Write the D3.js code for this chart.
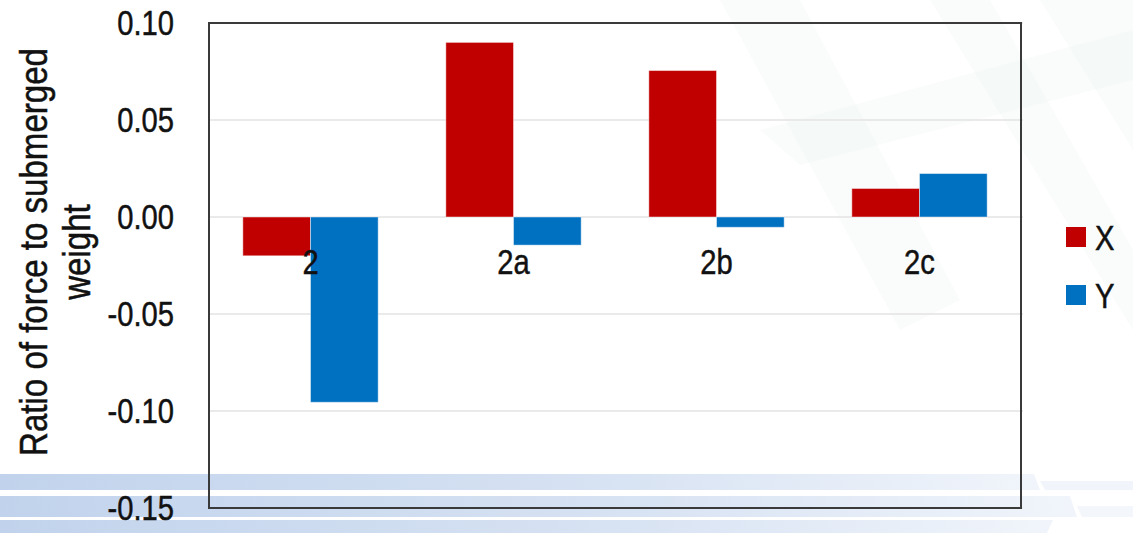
<!DOCTYPE html>
<html>
<head>
<meta charset="utf-8">
<script src="https://cdn.jsdelivr.net/npm/d3@7"></script>
<style>
	body { margin: 0; background: #fff; }
	text { font-family: 'Liberation Sans', Arial, sans-serif; fill: #111; stroke: #111; stroke-width: 0.5px; }
</style>
</head>
<body>
<script>
// data
let categories = ['2', '2a', '2b', '2c']
let seriesNames = ['X', 'Y']
let xValues = [-0.020, 0.090, 0.0755, 0.0147]
let yValues = [-0.0955, -0.0145, -0.0053, 0.0224]
let yTicks = [0.10, 0.05, 0.00, -0.05, -0.10, -0.15]
let colors = ['#C00000', '#0070C0']

let W = 1133, H = 533
let pLeft = 209, pRight = 1021, pTop = 23, pBottom = 508
let fs = 36, sq = 0.81	// font size and horizontal squeeze (narrow font look)

let svg = d3.select('body').append('svg').attr('width', W).attr('height', H)

// squeeze text horizontally, keeping its anchor point
let squeeze = function(sel) {
	sel.each(function() {
		let t = d3.select(this)
		let x = +t.attr('x') || 0
		t.attr('x', x / sq).attr('transform', `scale(${sq},1)`)
	})
}

// background decoration
let defs = svg.append('defs')
let grad = defs.append('linearGradient').attr('id', 'stripe').attr('x1', 0).attr('x2', 1)
grad.append('stop').attr('offset', 0).attr('stop-color', '#c1d3ec')
grad.append('stop').attr('offset', 0.6).attr('stop-color', '#d8e3f3')
grad.append('stop').attr('offset', 1).attr('stop-color', '#f1f5fb')

let bg = svg.append('g')
let greenShapes = [
	[[720, 0], [800, 0], [960, 300], [900, 330]],
	[[930, 0], [990, 0], [1133, 250], [1133, 330]],
	[[1040, 0], [1133, 0], [1133, 150]],
	[[760, 130], [1133, 30], [1133, 80], [800, 165]]
]
greenShapes.forEach(pts => {
	bg.append('polygon').attr('points', pts.map(p => p.join(',')).join(' '))
		.attr('fill', '#2e8b57').attr('opacity', 0.022)
})
bg.append('polygon').attr('points', '0,474 1034,474 1040,490 0,490').attr('fill', 'url(#stripe)')
bg.append('polygon').attr('points', '1040,481 1133,481 1133,490 1045,490').attr('fill', '#f1f5fb')
bg.append('polygon').attr('points', '0,496 1070,496 1077,517 0,517').attr('fill', 'url(#stripe)')
bg.append('polygon').attr('points', '1077,506 1133,506 1133,517 1082,517').attr('fill', '#f3f6fb')
bg.append('polygon').attr('points', '0,520 1053,520 1047,533 0,533').attr('fill', 'url(#stripe)')

let y = d3.scaleLinear().domain([-0.15, 0.10]).range([pBottom, pTop])
let x0 = d3.scaleBand().domain(categories).range([pLeft, pRight]).paddingInner(0).paddingOuter(0)
let x1 = d3.scaleBand().domain(seriesNames).range([0, x0.bandwidth()]).paddingOuter(0.5).paddingInner(0)

// gridlines
svg.append('g').selectAll('line').data(yTicks).join('line')
	.attr('x1', pLeft).attr('x2', pRight + 2)
	.attr('y1', d => y(d)).attr('y2', d => y(d))
	.attr('stroke', '#e3e3e3').attr('stroke-width', 1.5)

// bars
let rows = categories.map((c, i) => ({cat: c, vals: [xValues[i], yValues[i]]}))
svg.append('g').selectAll('g').data(rows).join('g')
	.attr('transform', d => `translate(${x0(d.cat)},0)`)
	.selectAll('rect').data(d => d.vals.map((v, j) => ({s: seriesNames[j], v: v, c: colors[j]}))).join('rect')
	.attr('x', d => x1(d.s))
	.attr('width', x1.bandwidth())
	.attr('y', d => y(Math.max(0, d.v)))
	.attr('height', d => Math.abs(y(d.v) - y(0)))
	.attr('fill', d => d.c)
	.attr('stroke', '#fff').attr('stroke-opacity', 0.45).attr('stroke-width', 1)

// frame
svg.append('rect').attr('x', pLeft).attr('y', pTop).attr('width', pRight - pLeft).attr('height', pBottom - pTop)
	.attr('fill', 'none').attr('stroke', '#3a3a3a').attr('stroke-width', 2)

// y axis
let fmt = d3.format('.2f')
let yAxis = d3.axisLeft(y).tickValues(yTicks).tickFormat(d => fmt(d).replace('−', '-')).tickSize(0).tickPadding(35)
let ya = svg.append('g').attr('transform', `translate(${pLeft},0)`).call(yAxis)
ya.select('.domain').remove()
ya.selectAll('text').style('font-size', fs + 'px').attr('fill', '#111').call(squeeze)

// category labels (sit just below zero line)
let xAxis = d3.axisBottom(x0).tickSize(0).tickPadding(31)
let xa = svg.append('g').attr('transform', `translate(0,${y(0)})`).call(xAxis)
xa.select('.domain').remove()
xa.selectAll('text').style('font-size', fs + 'px').attr('fill', '#111').call(squeeze)

// y title
let title = svg.append('text').attr('transform', 'translate(47,252) rotate(-90) scale(0.87,1)')
	.attr('text-anchor', 'middle').style('font-size', '38px')
title.append('tspan').attr('x', 0).attr('dy', 0).text('Ratio of force to submerged')
title.append('tspan').attr('x', 0).attr('dy', 43).text('weight')

// legend
let leg = svg.append('g').selectAll('g').data(seriesNames).join('g')
	.attr('transform', (d, i) => `translate(1066,${227 + i * 58})`)
leg.append('rect').attr('width', 20).attr('height', 20).attr('fill', (d, i) => colors[i])
leg.append('text').attr('x', 29).attr('y', 10).attr('dy', '0.35em').style('font-size', fs + 'px').text(d => d).call(squeeze)
</script>
</body>
</html>
